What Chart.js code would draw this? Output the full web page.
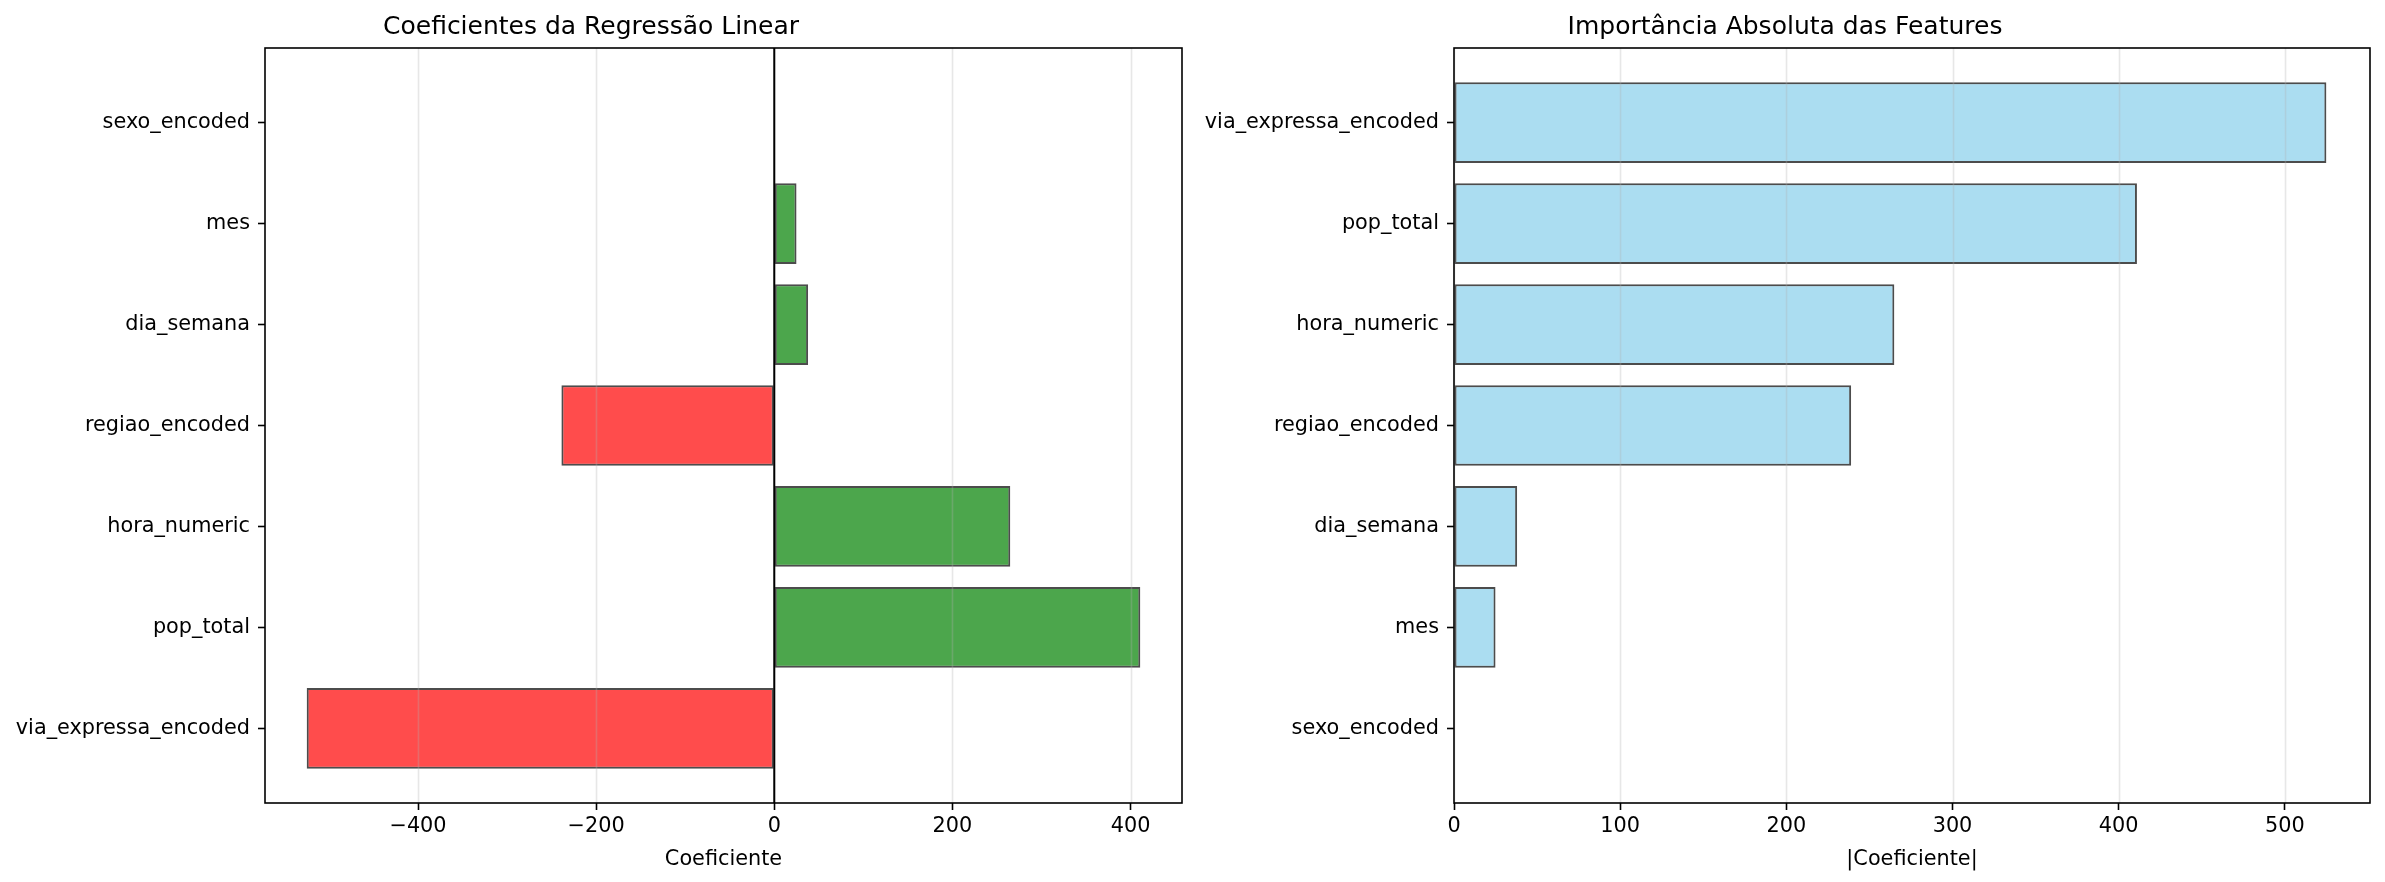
<!DOCTYPE html>
<html>
<head>
<meta charset="utf-8">
<script src="https://cdn.jsdelivr.net/npm/chart.js@4.4.1/dist/chart.umd.min.js"></script>
<style>
    html, body { margin: 0; padding: 0; background: #fff; }
    #wrap { position: relative; width: 2385px; height: 882px; }
    .panel { position: absolute; top: 0; height: 882px; }
    #left-panel { left: 0; width: 1200px; }
    #right-panel { left: 1200px; width: 1185px; }
    canvas { display: block; }
</style>
</head>
<body>
<div id="wrap">
    <div class="panel" id="left-panel"><canvas id="coef-chart" width="1200" height="882"></canvas></div>
    <div class="panel" id="right-panel"><canvas id="importance-chart" width="1185" height="882"></canvas></div>
</div>
<script>
// Left chart: coefficients, bottom to top
const coefFeatures = ['via_expressa_encoded', 'pop_total', 'hora_numeric', 'regiao_encoded', 'dia_semana', 'mes', 'sexo_encoded'];
const coefValues = [-525, 411, 265, -239, 38, 25, 0];
const coefTicks = [-400, -200, 0, 200, 400];

// Right chart: absolute importance, bottom to top
const importanceFeatures = ['sexo_encoded', 'mes', 'dia_semana', 'regiao_encoded', 'hora_numeric', 'pop_total', 'via_expressa_encoded'];
const importanceValues = [0, 25, 38, 239, 265, 411, 525];
const importanceTicks = [0, 100, 200, 300, 400, 500];

const FONT = 'DejaVu Sans';

// matplotlib-like 5% margins
function paddedRange(values, stickyZero) {
    const lo = Math.min(0, ...values);
    const hi = Math.max(0, ...values);
    const m = (hi - lo) * 0.05;
    return { min: stickyZero && lo === 0 ? 0 : lo - m, max: hi + m };
}

function fmtTick(v) {
    return v < 0 ? '\u2212' + Math.abs(v) : String(v);
}

// gridlines over the bars, zero line, then the frame
const overlayPlugin = {
    id: 'overlay',
    afterDatasetsDraw(chart, args, opts) {
        const { ctx, chartArea: a } = chart;
        const xs = chart.scales.x;
        ctx.save();
        ctx.lineWidth = 1.6;
        ctx.strokeStyle = 'rgba(176,176,176,0.3)';
        xs.ticks.forEach(t => {
            const px = Math.round(xs.getPixelForValue(t.value)) + 0.5;
            ctx.beginPath();
            ctx.moveTo(px, a.top);
            ctx.lineTo(px, a.bottom);
            ctx.stroke();
        });
        if (opts.zeroLine) {
            const px = xs.getPixelForValue(0);
            ctx.strokeStyle = '#000';
            ctx.lineWidth = 2;
            ctx.beginPath();
            ctx.moveTo(px, a.top);
            ctx.lineTo(px, a.bottom);
            ctx.stroke();
        }
        ctx.strokeStyle = '#000';
        ctx.lineWidth = 1.6;
        ctx.strokeRect(a.left, a.top, a.right - a.left, a.bottom - a.top);
        ctx.restore();
    }
};

function makeChart(canvasId, cfg) {
    const range = paddedRange(cfg.values, cfg.stickyZero);
    return new Chart(document.getElementById(canvasId), {
        type: 'bar',
        data: {
            datasets: [{
                data: cfg.values.map((v, i) => ({ x: v, y: i })),
                backgroundColor: cfg.colors,
                borderColor: 'rgba(0,0,0,0.7)',
                borderWidth: 2,
                borderSkipped: false,
                barPercentage: 0.8,
                categoryPercentage: 1.0
            }]
        },
        options: {
            indexAxis: 'y',
            responsive: false,
            devicePixelRatio: 1,
            animation: false,
            layout: { padding: { left: 0, right: cfg.padRight, top: 0, bottom: 0 } },
            plugins: {
                legend: { display: false },
                tooltip: { enabled: false },
                title: {
                    display: true,
                    text: cfg.title,
                    color: '#000',
                    font: { family: FONT, size: 25, weight: 'normal' },
                    padding: { top: 12, bottom: 6 }
                },
                overlay: { zeroLine: cfg.zeroLine }
            },
            scales: {
                x: {
                    type: 'linear',
                    min: range.min,
                    max: range.max,
                    afterBuildTicks: s => { s.ticks = cfg.ticks.map(v => ({ value: v })); },
                    afterFit: s => { s.height = 79; },
                    border: { display: false },
                    grid: { drawOnChartArea: false, drawTicks: true, tickLength: 7, tickColor: '#000', tickWidth: 1.6 },
                    ticks: {
                        color: '#000',
                        padding: 4,
                        maxRotation: 0,
                        autoSkip: false,
                        font: { family: FONT, size: 20.8 },
                        callback: v => fmtTick(v)
                    },
                    title: {
                        display: true,
                        text: cfg.xLabel,
                        color: '#000',
                        font: { family: FONT, size: 20.8 },
                        padding: { top: 0, bottom: 10 }
                    }
                },
                y: {
                    type: 'linear',
                    offset: false,
                    min: -0.74,
                    max: cfg.values.length - 1 + 0.74,
                    afterBuildTicks: s => { s.ticks = cfg.labels.map((_, i) => ({ value: i })); },
                    afterFit: s => { s.width = cfg.axisLeft; },
                    border: { display: false },
                    grid: { offset: false, drawOnChartArea: false, drawTicks: true, tickLength: 7, tickColor: '#000', tickWidth: 1.6 },
                    ticks: {
                        color: '#000',
                        padding: 8,
                        autoSkip: false,
                        font: { family: FONT, size: 20.8 },
                        callback: v => cfg.labels[v]
                    }
                }
            }
        },
        plugins: [overlayPlugin]
    });
}

makeChart('coef-chart', {
    title: 'Coeficientes da Regressão Linear',
    xLabel: 'Coeficiente',
    labels: coefFeatures,
    values: coefValues,
    ticks: coefTicks,
    colors: coefValues.map(v => v >= 0 ? 'rgba(0,128,0,0.7)' : 'rgba(255,0,0,0.7)'),
    zeroLine: true,
    stickyZero: false,
    axisLeft: 265,
    padRight: 18
});

makeChart('importance-chart', {
    title: 'Importância Absoluta das Features',
    xLabel: '|Coeficiente|',
    labels: importanceFeatures,
    values: importanceValues,
    ticks: importanceTicks,
    colors: 'rgba(135,206,235,0.7)',
    zeroLine: false,
    stickyZero: true,
    axisLeft: 254,
    padRight: 15
});
</script>
</body>
</html>
